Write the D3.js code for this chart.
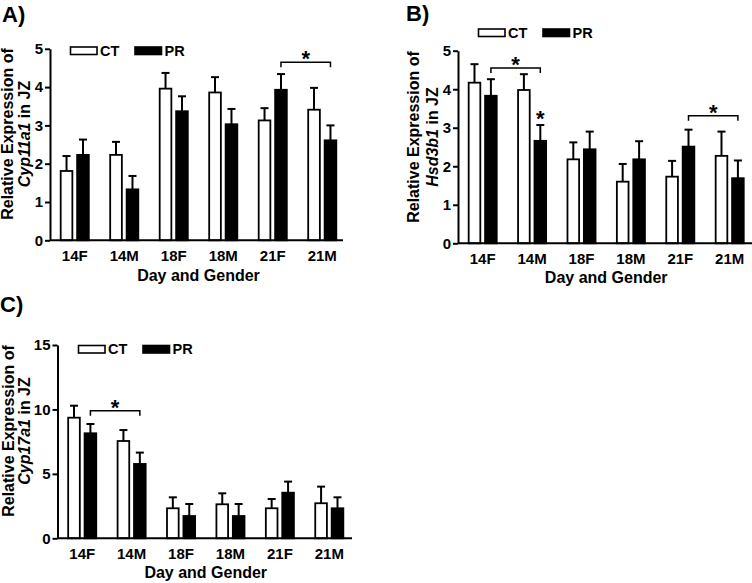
<!DOCTYPE html>
<html>
<head>
<meta charset="utf-8">
<script src="https://cdn.jsdelivr.net/npm/d3@7/dist/d3.min.js"></script>
<style>
  html, body { margin: 0; padding: 0; background: #fff; }
  svg { display: block; }
  text { font-family: "Liberation Sans", Arial, Helvetica, sans-serif; fill: #000; }
</style>
</head>
<body>
<svg id="chart" width="752" height="583"></svg>
<script>
// ---------- data ----------
const categories = ["14F", "14M", "18F", "18M", "21F", "21M"];
const seriesNames = ["CT", "PR"];

// Panel A: Cyp11a1
const cyp11a1CT    = [1.81, 2.23, 3.96, 3.86, 3.13, 3.41];
const cyp11a1CTErr = [0.39, 0.34, 0.41, 0.40, 0.32, 0.57];
const cyp11a1PR    = [2.23, 1.33, 3.37, 3.03, 3.93, 2.61];
const cyp11a1PRErr = [0.40, 0.35, 0.39, 0.40, 0.41, 0.39];
const ticksA = [0, 1, 2, 3, 4, 5];

// Panel B: Hsd3b1
const hsd3b1CT    = [4.17, 3.98, 2.18, 1.60, 1.73, 2.27];
const hsd3b1CTErr = [0.48, 0.41, 0.44, 0.46, 0.41, 0.63];
const hsd3b1PR    = [3.83, 2.66, 2.44, 2.18, 2.51, 1.69];
const hsd3b1PRErr = [0.43, 0.41, 0.46, 0.47, 0.44, 0.46];
const ticksB = [0, 1, 2, 3, 4, 5];

// Panel C: Cyp17a1
const cyp17a1CT    = [9.36, 7.55, 2.33, 2.64, 2.33, 2.72];
const cyp17a1CTErr = [0.93, 0.85, 0.85, 0.85, 0.72, 1.29];
const cyp17a1PR    = [8.15, 5.77, 1.73, 1.73, 3.54, 2.33];
const cyp17a1PRErr = [0.72, 0.88, 0.93, 0.93, 0.86, 0.85];
const ticksC = [0, 5, 10, 15];

// significance brackets: [fromCategory, toCategory, series, level]
const bracketsA = [["21F", "21M", "PR", 4.65]];
const bracketsB = [["14F", "14M", "PR", 4.55], ["21F", "21M", "PR", 3.31]];
const bracketsC = [["14F", "14M", "PR", 9.9]];
// single stars: [category, series, level]
const starsB = [["14M", "PR", 3.07]];

// ---------- drawing ----------
const FONT = "Liberation Sans, Arial, sans-serif";
const svg = d3.select("#chart");
svg.append("rect").attr("width", 752).attr("height", 583).attr("fill", "#fff");

function drawPanel(cfg) {
  const g = svg.append("g");
  const x0 = d3.scaleBand().domain(categories).range(cfg.xRange).paddingInner(0).paddingOuter(0);
  const x1 = d3.scaleBand().domain(seriesNames).range([0, x0.bandwidth()]).paddingInner(0.29).paddingOuter(0.65);
  const y = d3.scaleLinear().domain([0, cfg.yMax]).range(cfg.yRange);

  const rows = [];
  categories.forEach((c, i) => {
    rows.push({cat: c, s: "CT", v: cfg.ct[i], e: cfg.ctErr[i]});
    rows.push({cat: c, s: "PR", v: cfg.pr[i], e: cfg.prErr[i]});
  });
  const cx = (c, s) => x0(c) + x1(s) + x1.bandwidth() / 2;

  // error bars (upper only)
  const eb = g.append("g");
  rows.forEach(d => {
    const xc = cx(d.cat, d.s);
    eb.append("line").attr("x1", xc).attr("x2", xc)
      .attr("y1", y(d.v)).attr("y2", y(d.v + d.e))
      .attr("stroke", "#000").attr("stroke-width", 2);
    eb.append("line").attr("x1", xc - 4).attr("x2", xc + 4)
      .attr("y1", y(d.v + d.e)).attr("y2", y(d.v + d.e))
      .attr("stroke", "#000").attr("stroke-width", 2);
  });

  // bars
  g.append("g").selectAll("rect").data(rows).join("rect")
    .attr("x", d => x0(d.cat) + x1(d.s))
    .attr("y", d => y(d.v))
    .attr("width", x1.bandwidth())
    .attr("height", d => y(0) - y(d.v))
    .attr("fill", d => d.s === "CT" ? "#fff" : "#000")
    .attr("stroke", "#000").attr("stroke-width", 1.8);

  // y axis
  const ya = g.append("g").attr("transform", `translate(${cfg.xRange[0]},0)`)
    .call(d3.axisLeft(y).tickValues(cfg.ticks).tickSize(5).tickSizeOuter(0).tickPadding(2).tickFormat(d3.format("d")));
  ya.select(".domain").attr("stroke-width", 2);
  ya.selectAll(".tick line").attr("stroke-width", 2);
  ya.selectAll("text").attr("font-size", 15).attr("font-weight", "bold").attr("font-family", FONT);

  // x axis
  const xa = g.append("g").attr("transform", `translate(0,${y(0)})`)
    .call(d3.axisBottom(x0).tickSize(0).tickSizeOuter(0).tickPadding(10));
  xa.select(".domain").attr("d", `M${cfg.xRange[0]},0H${cfg.axisEnd}`).attr("stroke-width", 2);
  xa.selectAll("text").attr("font-size", 15).attr("font-weight", "bold").attr("font-family", FONT);

  // x title
  g.append("text").attr("x", (cfg.xRange[0] + cfg.xRange[1]) / 2).attr("y", cfg.xTitleY)
    .attr("text-anchor", "middle").attr("font-size", 16).attr("font-weight", "bold").text("Day and Gender");

  // y title (two lines)
  g.append("text").attr("transform", `translate(${cfg.yTitleX[0]},${cfg.yTitleCY}) rotate(-90)`)
    .attr("text-anchor", "middle").attr("font-size", 16).attr("font-weight", "bold").text("Relative Expression of");
  const t2 = g.append("text").attr("transform", `translate(${cfg.yTitleX[1]},${cfg.yTitleCY}) rotate(-90)`)
    .attr("text-anchor", "middle").attr("font-size", 16).attr("font-weight", "bold");
  t2.append("tspan").attr("font-style", "italic").text(cfg.gene);
  t2.append("tspan").text(" in JZ");

  // panel label
  g.append("text").attr("x", cfg.label[0]).attr("y", cfg.label[1])
    .attr("font-size", 22).attr("font-weight", "bold").text(cfg.labelText);

  // legend
  const lg = g.append("g").attr("transform", `translate(${cfg.legend[0]},${cfg.legend[1]})`);
  seriesNames.forEach((s, i) => {
    const ox = i * 64.5;
    lg.append("rect").attr("x", ox).attr("y", 0).attr("width", 26.5).attr("height", 7.5)
      .attr("fill", s === "CT" ? "#fff" : "#000").attr("stroke", "#000").attr("stroke-width", 1.6);
    lg.append("text").attr("x", ox + 29.5).attr("y", 8.5).attr("font-size", 14.5)
      .attr("font-weight", "bold").text(s);
  });

  // brackets
  (cfg.brackets || []).forEach(b => {
    const xa_ = cx(b[0], b[2]), xb_ = cx(b[1], b[2]), yy = y(b[3]);
    g.append("path").attr("d", `M${xa_},${yy + 5}V${yy}H${xb_}V${yy + 5}`)
      .attr("fill", "none").attr("stroke", "#000").attr("stroke-width", 1.5);
    g.append("text").attr("x", (xa_ + xb_) / 2).attr("y", yy + 4).attr("text-anchor", "middle")
      .attr("font-size", 22).attr("font-weight", "bold").text("*");
  });
  (cfg.stars || []).forEach(s => {
    g.append("text").attr("x", cx(s[0], s[1])).attr("y", y(s[2]) + 1).attr("text-anchor", "middle")
      .attr("font-size", 22).attr("font-weight", "bold").text("*");
  });
}

drawPanel({
  xRange: [50, 347], axisEnd: 343, yRange: [240.3, 48.8], yMax: 5, ticks: ticksA,
  ct: cyp11a1CT, ctErr: cyp11a1CTErr, pr: cyp11a1PR, prErr: cyp11a1PRErr,
  gene: "Cyp11a1", labelText: "A)", label: [2, 22], legend: [70.5, 47],
  yTitleX: [13, 29.5], yTitleCY: 134, xTitleY: 281, brackets: bracketsA
});
drawPanel({
  xRange: [458, 754.4], axisEnd: 752, yRange: [243.3, 50.7], yMax: 5, ticks: ticksB,
  ct: hsd3b1CT, ctErr: hsd3b1CTErr, pr: hsd3b1PR, prErr: hsd3b1PRErr,
  gene: "Hsd3b1", labelText: "B)", label: [406, 21], legend: [478.5, 29],
  yTitleX: [419, 437.5], yTitleCY: 137, xTitleY: 283, brackets: bracketsB, stars: starsB
});
drawPanel({
  xRange: [57.5, 354], axisEnd: 352, yRange: [538.3, 345], yMax: 15, ticks: ticksC,
  ct: cyp17a1CT, ctErr: cyp17a1CTErr, pr: cyp17a1PR, prErr: cyp17a1PRErr,
  gene: "Cyp17a1", labelText: "C)", label: [0, 312], legend: [78.5, 345.5],
  yTitleX: [13.5, 30], yTitleCY: 431, xTitleY: 578, brackets: bracketsC
});
</script>
</body>
</html>
